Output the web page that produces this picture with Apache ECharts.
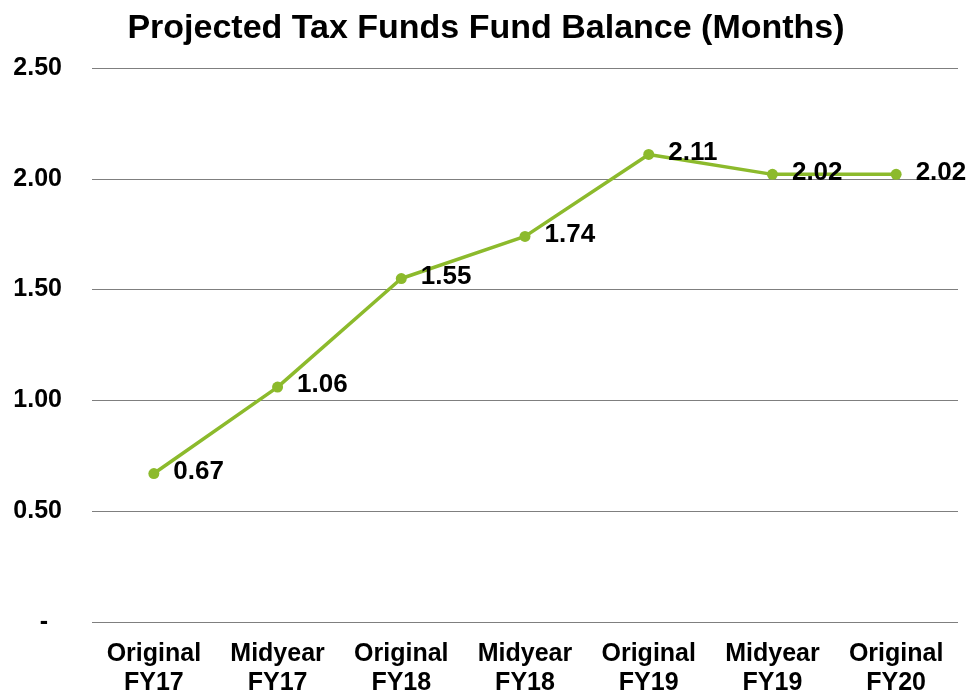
<!DOCTYPE html>
<html>
<head>
<meta charset="utf-8">
<script src="https://cdn.jsdelivr.net/npm/echarts@6/dist/echarts.min.js"></script>
<style>
  html, body { margin: 0; padding: 0; background: #fff; }
  #chart { width: 969px; height: 692px; }
</style>
</head>
<body>
<div id="chart"></div>
<script>
// categories and values
const categories = ['Original\nFY17', 'Midyear\nFY17', 'Original\nFY18', 'Midyear\nFY18', 'Original\nFY19', 'Midyear\nFY19', 'Original\nFY20'];
const balanceMonths = [0.67, 1.06, 1.55, 1.74, 2.11, 2.02, 2.02];
const yTicks = [0, 0.5, 1, 1.5, 2, 2.5];

let myChart = echarts.init(document.getElementById('chart'));
let option = {
  animation: false,
  title: {
    text: 'Projected Tax Funds Fund Balance (Months)',
    left: 481,
    textAlign: 'center',
    top: 7,
    textStyle: {
      fontFamily: 'Liberation Sans',
      fontSize: 34,
      fontWeight: 'bold',
      color: '#000'
    }
  },
  grid: {
    left: 92,
    right: 11,
    top: 68,
    bottom: 70,
    outerBoundsMode: 'none'
  },
  xAxis: {
    type: 'category',
    data: categories,
    axisLine: { show: false },
    axisTick: { show: false },
    axisLabel: {
      interval: 0,
      margin: 18,
      fontFamily: 'Liberation Sans',
      fontSize: 25,
      fontWeight: 'bold',
      lineHeight: 29,
      color: '#000'
    }
  },
  yAxis: {
    type: 'value',
    min: yTicks[0],
    max: yTicks[yTicks.length - 1],
    interval: 0.5,
    axisLine: { show: false },
    axisTick: { show: false },
    splitLine: {
      lineStyle: { color: '#7f7f7f', width: 1 }
    },
    axisLabel: {
      margin: 30,
      fontFamily: 'Liberation Sans',
      fontSize: 25,
      fontWeight: 'bold',
      color: '#000',
      formatter: function (v) {
        return v === 0 ? '-  ' : v.toFixed(2);
      }
    }
  },
  series: [{
    type: 'line',
    data: balanceMonths,
    symbol: 'circle',
    symbolSize: 11,
    lineStyle: { color: '#8cba2c', width: 3.5 },
    itemStyle: { color: '#8cba2c' },
    label: {
      show: true,
      position: 'right',
      distance: 14,
      offset: [0, -2],
      fontFamily: 'Liberation Sans',
      fontSize: 26,
      fontWeight: 'bold',
      color: '#000',
      formatter: function (p) { return p.value.toFixed(2); }
    }
  }]
};
myChart.setOption(option);
</script>
</body>
</html>
